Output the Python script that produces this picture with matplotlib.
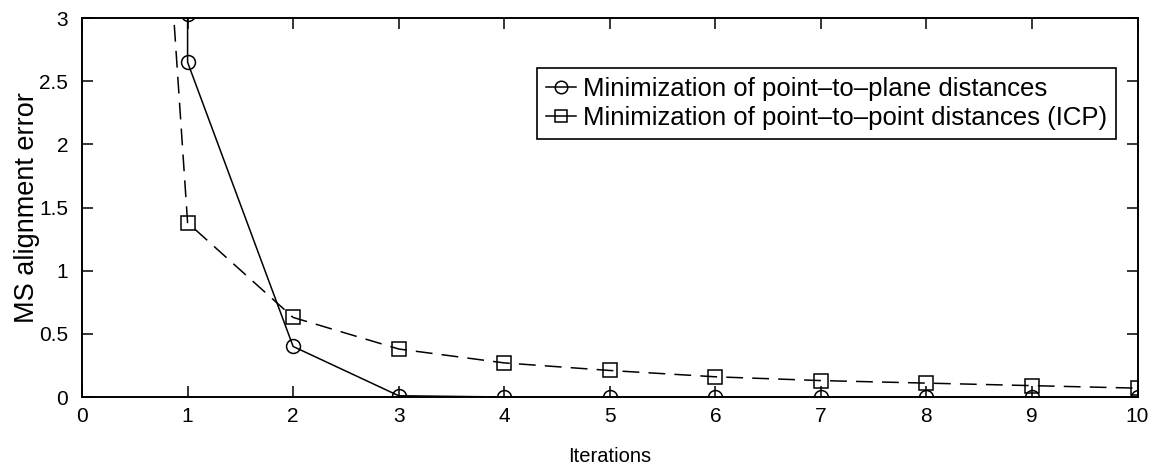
import matplotlib
matplotlib.use("Agg")
import matplotlib.pyplot as plt

plt.rcParams['font.family'] = ['Liberation Sans', 'DejaVu Sans']

# Data
iters_plane = [1, 1, 2, 3, 4, 5, 6, 7, 8, 9, 10]
err_plane = [3.03, 2.65, 0.40, 0.01, 0.0, 0.0, 0.0, 0.0, 0.0, 0.0, 0.0]
iters_icp = [0, 1, 2, 3, 4, 5, 6, 7, 8, 9, 10]
err_icp = [13.8, 1.38, 0.63, 0.38, 0.27, 0.21, 0.16, 0.13, 0.11, 0.09, 0.07]
labels = ["Minimization of point\u2013to\u2013plane distances",
          "Minimization of point\u2013to\u2013point distances (ICP)"]
xticks = list(range(0, 11))
yticks = [0, 0.5, 1, 1.5, 2, 2.5, 3]
ytick_labels = ["0", "0.5", "1", "1.5", "2", "2.5", "3"]

fig = plt.figure(figsize=(11.49, 4.68), dpi=100)
ax = fig.add_axes([0.0714, 0.1517, 0.9186, 0.8098])

ax.plot(iters_plane, err_plane, color='black', lw=1.1, marker='o', ms=10,
        mfc='none', mec='black', mew=1.1, label=labels[0])
ax.plot(iters_icp, err_icp, color='black', lw=1.1, dashes=(11, 6), marker='s', ms=10,
        mfc='none', mec='black', mew=1.1, label=labels[1])

ax.set_xlim(0, 10)
ax.set_ylim(0, 3)
ax.set_xticks(xticks)
ax.set_yticks(yticks)
ax.set_yticklabels(ytick_labels)
ax.tick_params(direction='in', length=8, width=1.1, top=True, right=True,
               labelsize=15, colors='black')
ax.tick_params(axis='y', pad=10)
ax.tick_params(axis='x', pad=7)
for s in ax.spines.values():
    s.set_linewidth(1.4)

ax.set_xlabel("Iterations", fontsize=14.5, labelpad=15)
ax.set_ylabel("MS alignment error", fontsize=19.5, labelpad=-1)

leg = ax.legend(loc='upper right', bbox_to_anchor=(0.980, 0.868), fontsize=18.5,
                handlelength=1.15, handletextpad=0.3, borderpad=0.35,
                labelspacing=0.2, fancybox=False, framealpha=1,
                edgecolor='black', borderaxespad=0)
leg.get_frame().set_linewidth(1.2)
for h in leg.legend_handles:
    h.set_linestyle('-')
    h.set_markersize(9)

fig.savefig("out.png", dpi=100)
